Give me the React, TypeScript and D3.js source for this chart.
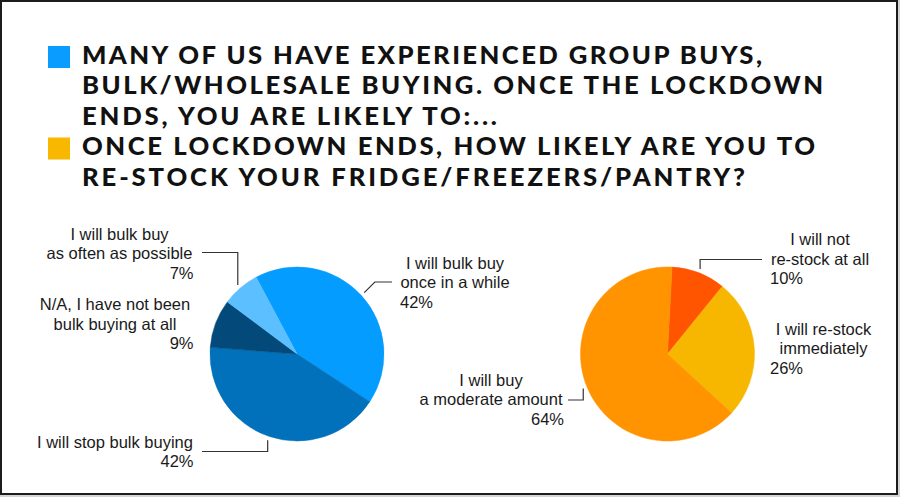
import * as d3 from 'd3';
import { useEffect, useRef } from 'react';

// legend / title
const titleLines1 = [
  'MANY OF US HAVE EXPERIENCED GROUP BUYS,',
  'BULK/WHOLESALE BUYING. ONCE THE LOCKDOWN',
  'ENDS, YOU ARE LIKELY TO:...',
];
const titleLines2 = [
  'ONCE LOCKDOWN ENDS, HOW LIKELY ARE YOU TO',
  'RE-STOCK YOUR FRIDGE/FREEZERS/PANTRY?',
];

// pie 1 : bulk buying
const bulkLabels = [
  ['I will bulk buy', 'once in a while'],
  ['I will stop bulk buying'],
  ['N/A, I have not been', 'bulk buying at all'],
  ['I will bulk buy', 'as often as possible'],
];
const bulkValues = [42, 42, 9, 7];
const bulkColors = ['#049dff', '#0071ba', '#03497a', '#5cbfff'];

// pie 2 : re-stock
const restockLabels = [
  ['I will not', 're-stock at all'],
  ['I will re-stock', 'immediately'],
  ['I will buy', 'a moderate amount'],
];
const restockValues = [10, 26, 64];
const restockColors = ['#ff5500', '#f7b700', '#ff9300'];

const W = 900;
const H = 497;

export default function App() {
  const ref = useRef<any>();

  useEffect(() => {
    const svg = d3.select<any, any>(ref.current);
    svg.selectAll('*').remove();

    svg.append('rect').attr('width', W).attr('height', H).attr('fill', '#d4d4d4');
    svg.append('rect')
      .attr('x', 1).attr('y', 1).attr('width', 896).attr('height', 493)
      .attr('fill', '#fff').attr('stroke', '#1c1c1c').attr('stroke-width', 2);

    // title with legend squares (letters stretched a bit to get the wide heavy look)
    const stretch = 1.07;
    const titleWidths1 = [680, 741, 415];
    const titleWidths2 = [733, 663];
    const title = svg.append('g')
      .attr('font-family', 'Lato, sans-serif')
      .attr('font-weight', 900)
      .attr('font-size', 24)
      .attr('fill', '#111')
      .attr('transform', `translate(82,0) scale(${stretch},1)`);
    const drawBlock = (lines: string[], widths: number[], y0: number, color: string) => {
      svg.append('rect')
        .attr('x', 48).attr('y', y0 - 18).attr('width', 22).attr('height', 22)
        .attr('fill', color);
      lines.forEach((t, i) => {
        title.append('text')
          .attr('x', 0)
          .attr('y', y0 + i * 30.5)
          .attr('textLength', widths[i] / stretch)
          .attr('lengthAdjust', 'spacing')
          .text(t);
      });
    };
    drawBlock(titleLines1, titleWidths1, 64, '#0a9cff');
    drawBlock(titleLines2, titleWidths2, 155.5, '#f9b800');

    const r = 87;
    const lineH = 19.5;

    // label layout: cx = centre of text lines, px = x of percentage, pa = its anchor,
    // y = first baseline, lx/ly = end of the leader line, mode = leader style
    const bulkLayout: any[] = [
      { cx: 455, px: 400, pa: 'start', y: 268.5, lx: 392, ly: 282, mode: 'diag' },
      { cx: 115, px: 193.5, pa: 'end', y: 447.5, lx: 202, ly: 451.5, mode: 'elbow' },
      { cx: 115, px: 193.5, pa: 'end', y: 310, mode: 'none' },
      { cx: 119.5, px: 193.5, pa: 'end', y: 239.5, lx: 202, ly: 252.5, mode: 'elbow' },
    ];
    const restockLayout: any[] = [
      { cx: 820, px: 770, pa: 'start', y: 245, lx: 762, ly: 259.5, mode: 'elbow' },
      { cx: 823.5, px: 770, pa: 'start', y: 334.5, mode: 'none' },
      { cx: 491, px: 564, pa: 'end', y: 385.5, lx: 568, ly: 400, mode: 'elbow' },
    ];

    const drawPie = (values: number[], labels: string[][], colors: string[], layout: any[],
      cx: number, cy: number, startDeg: number) => {
      const start = startDeg * Math.PI / 180;
      const pie = d3.pie<number>().sort(null).startAngle(start).endAngle(start + 2 * Math.PI);
      const arcs = pie(values);
      const arc = d3.arc<any>().innerRadius(0).outerRadius(r);
      const edge = d3.arc<any>().innerRadius(r + 4).outerRadius(r + 4);
      const g = svg.append('g').attr('transform', `translate(${cx},${cy})`);

      g.selectAll('path.slice')
        .data(arcs)
        .join('path')
        .attr('class', 'slice')
        .attr('d', arc)
        .attr('fill', (d, i) => colors[i])
        .attr('stroke', (d, i) => colors[i])
        .attr('stroke-width', 0.5);

      // leader lines
      arcs.forEach((a, i) => {
        const L = layout[i];
        if (L.mode === 'none') return;
        const [ex, ey] = edge.centroid(a);
        const x0 = cx + ex;
        const y0 = cy + ey;
        let pts: [number, number][];
        if (L.mode === 'diag') {
          const dy = L.ly - y0;
          const kx = x0 + Math.abs(dy) * Math.sign(L.lx - x0);
          pts = [[x0, y0], [kx, L.ly], [L.lx, L.ly]];
        } else {
          pts = [[x0, y0], [x0, L.ly], [L.lx, L.ly]];
        }
        svg.append('path')
          .attr('d', d3.line()(pts))
          .attr('fill', 'none')
          .attr('stroke', '#333')
          .attr('stroke-width', 1.2);
      });

      // labels
      const lg = svg.append('g')
        .attr('font-family', '"Liberation Sans", Arial, sans-serif')
        .attr('font-size', 16.5)
        .attr('fill', '#1a1a1a');
      labels.forEach((lines, i) => {
        const L = layout[i];
        lines.forEach((t, j) => {
          lg.append('text')
            .attr('x', L.cx)
            .attr('y', L.y + j * lineH)
            .attr('text-anchor', 'middle')
            .text(t);
        });
        lg.append('text')
          .attr('x', L.px)
          .attr('y', L.y + lines.length * lineH)
          .attr('text-anchor', L.pa)
          .text(`${values[i]}%`);
      });
    };

    drawPie(bulkValues, bulkLabels, bulkColors, bulkLayout, 297, 354, -28);
    drawPie(restockValues, restockLabels, restockColors, restockLayout, 667.5, 354, 3);
  });

  return (
    <svg ref={ref} width={W} height={H}
      style={{ position: 'absolute', left: 0, top: 0, display: 'block' }}></svg>
  );
}
